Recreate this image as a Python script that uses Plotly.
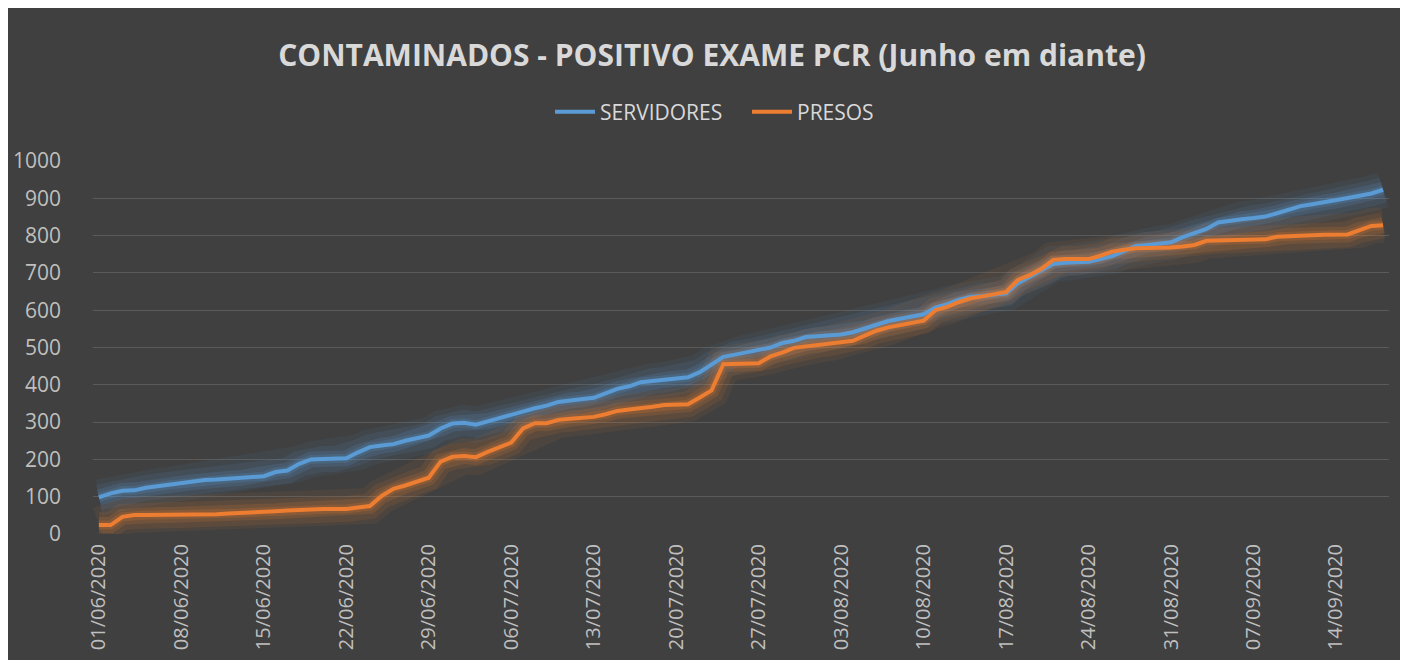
import plotly.graph_objects as go
import pandas as pd

dates = pd.date_range("2020-06-01", "2020-09-18", freq="D")

servidores = [
    98, 109, 116, 117, 124, 128, 132, 135, 139, 145,
    146, 148, 150, 152, 155, 166, 170, 188, 200, 201,
    201, 203, 219, 233, 237, 241, 250, 257, 264, 283,
    296, 298, 293, 302, 311, 320, 330, 337, 344, 354,
    358, 361, 365, 377, 389, 396, 407, 410, 413, 417,
    420, 434, 455, 475, 481, 487, 494, 500, 512, 518,
    528, 531, 533, 535, 541, 551, 561, 571, 577, 583,
    589, 607, 616, 628, 636, 638, 641, 645, 672, 690,
    707, 724, 727, 728, 730, 737, 745, 758, 772, 775,
    778, 782, 796, 808, 818, 835, 840, 844, 847, 851,
    860, 870, 879, 884, 889, 894, 901, 907, 913, 923,
]

presos = [
    24, 24, 46, 51, 51, 51, 51, 51, 51, 51,
    53, 55, 56, 58, 60, 61, 63, 65, 67, 67,
    67, 67, 71, 75, 102, 121, 130, 140, 151, 194,
    207, 209, 206, 220, 232, 245, 283, 297, 297, 306,
    309, 312, 314, 321, 330, 334, 337, 341, 346, 348,
    348, 366, 385, 455, 456, 457, 458, 476, 486, 499,
    503, 507, 511, 514, 518, 532, 545, 554, 560, 566,
    572, 600, 609, 622, 632, 637, 643, 649, 681, 694,
    711, 735, 737, 737, 737, 746, 757, 762, 766, 767,
    767, 768, 771, 775, 786, 787, 787, 787, 788, 790,
    797, 799, 800, 801, 802, 802, 803, 815, 826, 828,
]

series_names = ["SERVIDORES", "PRESOS"]
series_values = [servidores, presos]
colors = ["#5B9BD5", "#ED7D31"]
glow_rgb = ["91,155,213", "237,125,49"]

# page has an 8px body margin; figure coords = screen coords - 8
W, H = 1400, 652
L, R, T, B = 85, 19, 153, 126

fig = go.Figure()

# soft glow behind lines
for vals, rgb in zip(series_values, glow_rgb):
    for w, a in [(36, 0.07), (26, 0.10), (16, 0.15), (9, 0.2)]:
        fig.add_trace(go.Scatter(
            x=dates, y=vals, mode="lines",
            line=dict(color=f"rgba({rgb},{a})", width=w),
            showlegend=False, hoverinfo="skip",
        ))

for name, vals, c in zip(series_names, series_values, colors):
    fig.add_trace(go.Scatter(
        x=dates, y=vals, mode="lines", name=name,
        line=dict(color=c, width=4),
    ))

pw = W - L - R
ph = H - T - B


def px_x(px):
    return (px - 8 - L) / pw


def px_y(py):
    return (H - B - (py - 8)) / ph


fig.update_layout(
    width=W, height=H,
    margin=dict(l=L, r=R, t=T, b=B, autoexpand=False),
    paper_bgcolor="#404040",
    plot_bgcolor="#404040",
    font=dict(family="Open Sans", color="#BFBFBF"),
    title=dict(
        text="<b>CONTAMINADOS - POSITIVO EXAME PCR (Junho em diante)</b>",
        x=(712 - 8) / W, xref="container", xanchor="center",
        y=1 - (55 - 8) / H, yref="container", yanchor="middle",
        font=dict(family="Open Sans", size=30, color="#D9D9D9"),
    ),
    legend=dict(
        orientation="h", x=px_x(747), xanchor="center",
        y=px_y(112), yanchor="middle",
        font=dict(size=21, color="#D9D9D9"),
        bgcolor="rgba(0,0,0,0)",
        itemwidth=40,
        entrywidth=142,
    ),
    showlegend=True,
)

fig.update_xaxes(
    type="date",
    range=["2020-05-31 12:00", "2020-09-18 12:00"],
    tick0="2020-06-01", dtick=7 * 24 * 3600 * 1000,
    tickformat="%d/%m/%Y", tickangle=-90,
    tickfont=dict(size=20, color="#BFBFBF"),
    showgrid=False, zeroline=False, showline=False, ticks="",
    ticklabelstandoff=5,
)

fig.update_yaxes(
    range=[0, 1000], dtick=100,
    tickfont=dict(size=21, color="#BFBFBF"),
    gridcolor="#5A5A5A", gridwidth=1.3,
    zeroline=False, showline=False, ticks="",
    ticklabelstandoff=31,
)

fig.write_html("out.html")
